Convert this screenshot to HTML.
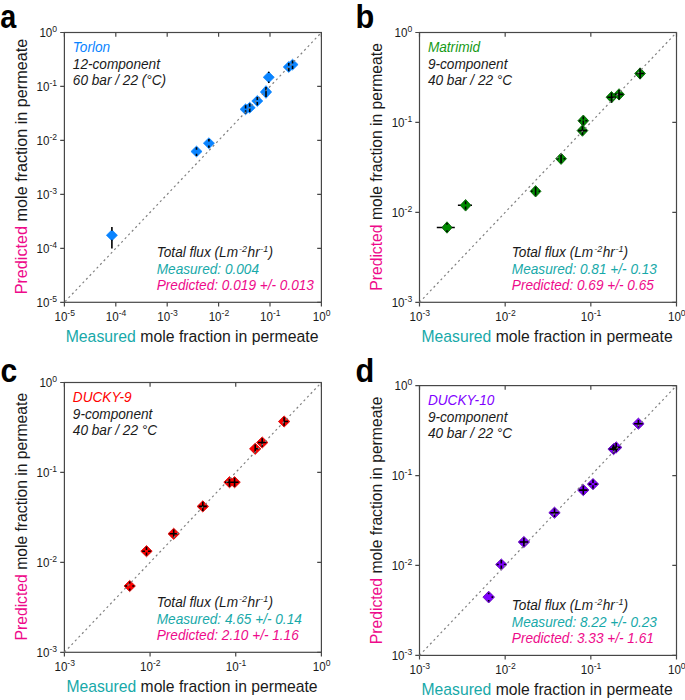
<!DOCTYPE html>
<html><head><meta charset="utf-8"><style>
html,body{margin:0;padding:0;background:#fff;}
svg{display:block;}
text{font-family:"Liberation Sans",sans-serif;}
</style></head><body>
<svg width="685" height="700" viewBox="0 0 685 700">
<rect width="685" height="700" fill="#fff"/>
<rect x="64.4" y="32.5" width="257" height="269.8" fill="none" stroke="#474747" stroke-width="1.2"/>
<path d="M64.4 302.3V306.5M64.4 32.5V36.7M64.4 302.3H60.2M321.4 302.3H317.2M115.8 302.3V306.5M115.8 32.5V36.7M64.4 248.34H60.2M321.4 248.34H317.2M167.2 302.3V306.5M167.2 32.5V36.7M64.4 194.38H60.2M321.4 194.38H317.2M218.6 302.3V306.5M218.6 32.5V36.7M64.4 140.42H60.2M321.4 140.42H317.2M270 302.3V306.5M270 32.5V36.7M64.4 86.46H60.2M321.4 86.46H317.2M321.4 302.3V306.5M321.4 32.5V36.7M64.4 32.5H60.2M321.4 32.5H317.2" stroke="#474747" stroke-width="1.2" fill="none"/>
<text transform="translate(54.43 320.7) scale(1 1.04)" font-size="11.6" fill="#1a1a1a">10</text>
<text transform="translate(67.33 315.5) scale(1 1.04)" font-size="8.6" fill="#1a1a1a">-5</text>
<text transform="translate(36.55 306.6) scale(1 1.04)" font-size="11.6" fill="#1a1a1a">10</text>
<text transform="translate(49.45 302) scale(1 1.04)" font-size="8.6" fill="#1a1a1a">-5</text>
<text transform="translate(105.83 320.7) scale(1 1.04)" font-size="11.6" fill="#1a1a1a">10</text>
<text transform="translate(118.73 315.5) scale(1 1.04)" font-size="8.6" fill="#1a1a1a">-4</text>
<text transform="translate(36.55 252.64) scale(1 1.04)" font-size="11.6" fill="#1a1a1a">10</text>
<text transform="translate(49.45 248.04) scale(1 1.04)" font-size="8.6" fill="#1a1a1a">-4</text>
<text transform="translate(157.23 320.7) scale(1 1.04)" font-size="11.6" fill="#1a1a1a">10</text>
<text transform="translate(170.13 315.5) scale(1 1.04)" font-size="8.6" fill="#1a1a1a">-3</text>
<text transform="translate(36.55 198.68) scale(1 1.04)" font-size="11.6" fill="#1a1a1a">10</text>
<text transform="translate(49.45 194.08) scale(1 1.04)" font-size="8.6" fill="#1a1a1a">-3</text>
<text transform="translate(208.63 320.7) scale(1 1.04)" font-size="11.6" fill="#1a1a1a">10</text>
<text transform="translate(221.53 315.5) scale(1 1.04)" font-size="8.6" fill="#1a1a1a">-2</text>
<text transform="translate(36.55 144.72) scale(1 1.04)" font-size="11.6" fill="#1a1a1a">10</text>
<text transform="translate(49.45 140.12) scale(1 1.04)" font-size="8.6" fill="#1a1a1a">-2</text>
<text transform="translate(260.03 320.7) scale(1 1.04)" font-size="11.6" fill="#1a1a1a">10</text>
<text transform="translate(272.93 315.5) scale(1 1.04)" font-size="8.6" fill="#1a1a1a">-1</text>
<text transform="translate(36.55 90.76) scale(1 1.04)" font-size="11.6" fill="#1a1a1a">10</text>
<text transform="translate(49.45 86.16) scale(1 1.04)" font-size="8.6" fill="#1a1a1a">-1</text>
<text transform="translate(312.86 320.7) scale(1 1.04)" font-size="11.6" fill="#1a1a1a">10</text>
<text transform="translate(325.76 315.5) scale(1 1.04)" font-size="8.6" fill="#1a1a1a">0</text>
<text transform="translate(39.42 36.8) scale(1 1.04)" font-size="11.6" fill="#1a1a1a">10</text>
<text transform="translate(52.32 32.2) scale(1 1.04)" font-size="8.6" fill="#1a1a1a">0</text>
<text transform="translate(65.65 341.7)" font-size="15.8" fill="#1a1a1a"><tspan fill="#17a9a9">Measured</tspan> mole fraction in permeate</text>
<text transform="translate(26.6 166.5) rotate(-90) scale(1 1.0)" x="-127.85" y="0" font-size="16.2" fill="#1a1a1a"><tspan fill="#ee0a8a">Predicted</tspan> mole fraction in permeate</text>
<text transform="translate(0.2 28.3) scale(0.9 1.01)" font-size="32" font-weight="bold" fill="#000">a</text>
<text transform="translate(72.8 51.8) scale(1 1.04)" font-size="13.65" fill="#0a84ff" font-style="italic">Torlon</text>
<text transform="translate(72.8 68.9) scale(1 1.04)" font-size="13.65" fill="#1a1a1a" font-style="italic">12-component</text>
<text transform="translate(72.8 84.7) scale(1 1.04)" font-size="13.65" fill="#1a1a1a" font-style="italic">60 bar / 22 (°C)</text>
<text transform="translate(156.7 256.9) scale(1 1.04)" font-size="13.65" fill="#1a1a1a" font-style="italic">Total flux (Lm<tspan font-size="9" dx="1.1" dy="-5.2">-2</tspan><tspan dx="0.5" dy="5.2">hr</tspan><tspan font-size="9" dx="0.6" dy="-5.2">-1</tspan><tspan dx="0.1" dy="5.2">)</tspan></text>
<text transform="translate(156.7 273.5) scale(1 1.04)" font-size="13.65" fill="#17a9a9" font-style="italic">Measured: 0.004</text>
<text transform="translate(156.7 289.6) scale(1 1.04)" font-size="13.65" fill="#ee0a8a" font-style="italic">Predicted: 0.019 +/- 0.013</text>
<path d="M106.35 235.3L111.9 229.85L117.45 235.3L111.9 240.75Z" fill="#0a84ff" stroke="#0a84ff" stroke-width="0.7" stroke-linejoin="round"/>
<path d="M190.95 151.5L196.5 146.05L202.05 151.5L196.5 156.95Z" fill="#0a84ff" stroke="#0a84ff" stroke-width="0.7" stroke-linejoin="round"/>
<path d="M203.35 143.2L208.9 137.75L214.45 143.2L208.9 148.65Z" fill="#0a84ff" stroke="#0a84ff" stroke-width="0.7" stroke-linejoin="round"/>
<path d="M244.15 107.7L249.7 102.25L255.25 107.7L249.7 113.15Z" fill="#0a84ff" stroke="#0a84ff" stroke-width="0.7" stroke-linejoin="round"/>
<path d="M240.05 109.3L245.6 103.85L251.15 109.3L245.6 114.75Z" fill="#0a84ff" stroke="#0a84ff" stroke-width="0.7" stroke-linejoin="round"/>
<path d="M251.75 101L257.3 95.55L262.85 101L257.3 106.45Z" fill="#0a84ff" stroke="#0a84ff" stroke-width="0.7" stroke-linejoin="round"/>
<path d="M260.35 92L266 85.65L271.65 92L266 98.35Z" fill="#0a84ff" stroke="#0a84ff" stroke-width="0.7" stroke-linejoin="round"/>
<path d="M263.2 77.3L268.75 71.85L274.3 77.3L268.75 82.75Z" fill="#0a84ff" stroke="#0a84ff" stroke-width="0.7" stroke-linejoin="round"/>
<path d="M287 64.6L292.55 59.15L298.1 64.6L292.55 70.05Z" fill="#0a84ff" stroke="#0a84ff" stroke-width="0.7" stroke-linejoin="round"/>
<path d="M283.21 66.97L288.76 61.52L294.31 66.97L288.76 72.42Z" fill="#0a84ff" stroke="#0a84ff" stroke-width="0.7" stroke-linejoin="round"/>
<path d="M111.9 227V230.7M111.9 239.8V248.6M196.5 147.3V149.7M196.5 153.7V156.1M208.9 139V141.4M208.9 145.4V147.8M249.7 103.6V106.8M249.7 108.6V112M245.6 105.2V108.4M245.6 110.2V113.6M257.3 96.9V100.1M257.3 101.9V105.3M266 87V97M268.75 71.7V73M268.75 81.6V83M292.55 60.6V63.4M292.55 65.7V68.9M288.76 62.97V65.77M288.76 68.07V71.27" stroke="#000" stroke-width="1.6" fill="none"/>
<path d="M64.4 302.3L321.4 32.5" stroke="#808080" stroke-width="1.2" stroke-dasharray="2.1 3" stroke-dashoffset="4.2" fill="none"/>
<rect x="419.5" y="32.5" width="257" height="269.8" fill="none" stroke="#474747" stroke-width="1.2"/>
<path d="M419.5 302.3V306.5M419.5 32.5V36.7M419.5 302.3H415.3M676.5 302.3H672.3M505.17 302.3V306.5M505.17 32.5V36.7M419.5 212.37H415.3M676.5 212.37H672.3M590.83 302.3V306.5M590.83 32.5V36.7M419.5 122.43H415.3M676.5 122.43H672.3M676.5 302.3V306.5M676.5 32.5V36.7M419.5 32.5H415.3M676.5 32.5H672.3" stroke="#474747" stroke-width="1.2" fill="none"/>
<text transform="translate(409.53 320.7) scale(1 1.04)" font-size="11.6" fill="#1a1a1a">10</text>
<text transform="translate(422.43 315.5) scale(1 1.04)" font-size="8.6" fill="#1a1a1a">-3</text>
<text transform="translate(391.65 306.6) scale(1 1.04)" font-size="11.6" fill="#1a1a1a">10</text>
<text transform="translate(404.55 302) scale(1 1.04)" font-size="8.6" fill="#1a1a1a">-3</text>
<text transform="translate(495.19 320.7) scale(1 1.04)" font-size="11.6" fill="#1a1a1a">10</text>
<text transform="translate(508.09 315.5) scale(1 1.04)" font-size="8.6" fill="#1a1a1a">-2</text>
<text transform="translate(391.65 216.67) scale(1 1.04)" font-size="11.6" fill="#1a1a1a">10</text>
<text transform="translate(404.55 212.07) scale(1 1.04)" font-size="8.6" fill="#1a1a1a">-2</text>
<text transform="translate(580.86 320.7) scale(1 1.04)" font-size="11.6" fill="#1a1a1a">10</text>
<text transform="translate(593.76 315.5) scale(1 1.04)" font-size="8.6" fill="#1a1a1a">-1</text>
<text transform="translate(391.65 126.73) scale(1 1.04)" font-size="11.6" fill="#1a1a1a">10</text>
<text transform="translate(404.55 122.13) scale(1 1.04)" font-size="8.6" fill="#1a1a1a">-1</text>
<text transform="translate(667.96 320.7) scale(1 1.04)" font-size="11.6" fill="#1a1a1a">10</text>
<text transform="translate(680.86 315.5) scale(1 1.04)" font-size="8.6" fill="#1a1a1a">0</text>
<text transform="translate(394.52 36.8) scale(1 1.04)" font-size="11.6" fill="#1a1a1a">10</text>
<text transform="translate(407.42 32.2) scale(1 1.04)" font-size="8.6" fill="#1a1a1a">0</text>
<text transform="translate(421.55 341.7)" font-size="15.7" fill="#1a1a1a"><tspan fill="#17a9a9">Measured</tspan> mole fraction in permeate</text>
<text transform="translate(381.7 166.85) rotate(-90) scale(1 1.0)" x="-123.91" y="0" font-size="15.7" fill="#1a1a1a"><tspan fill="#ee0a8a">Predicted</tspan> mole fraction in permeate</text>
<text transform="translate(355.4 27.6) scale(0.96 1.01)" font-size="32" font-weight="bold" fill="#000">b</text>
<text transform="translate(427.9 51.8) scale(1 1.04)" font-size="13.65" fill="#169a16" font-style="italic">Matrimid</text>
<text transform="translate(427.9 68.9) scale(1 1.04)" font-size="13.65" fill="#1a1a1a" font-style="italic">9-component</text>
<text transform="translate(427.9 84.7) scale(1 1.04)" font-size="13.65" fill="#1a1a1a" font-style="italic">40 bar / 22 °C</text>
<text transform="translate(511.8 256.9) scale(1 1.04)" font-size="13.65" fill="#1a1a1a" font-style="italic">Total flux (Lm<tspan font-size="9" dx="1.1" dy="-5.2">-2</tspan><tspan dx="0.5" dy="5.2">hr</tspan><tspan font-size="9" dx="0.6" dy="-5.2">-1</tspan><tspan dx="0.1" dy="5.2">)</tspan></text>
<text transform="translate(511.8 273.5) scale(1 1.04)" font-size="13.65" fill="#17a9a9" font-style="italic">Measured: 0.81 +/- 0.13</text>
<text transform="translate(511.8 289.6) scale(1 1.04)" font-size="13.65" fill="#ee0a8a" font-style="italic">Predicted: 0.69 +/- 0.65</text>
<path d="M441.8 227.5L447 221.8L452.2 227.5L447 233.2Z" fill="#008c00" stroke="#005a00" stroke-width="0.8" stroke-linejoin="round"/>
<path d="M460.2 205.3L465.6 199.5L471 205.3L465.6 211.1Z" fill="#008c00" stroke="#005a00" stroke-width="0.8" stroke-linejoin="round"/>
<path d="M530.2 191.3L535.6 185.6L541 191.3L535.6 197Z" fill="#008c00" stroke="#005a00" stroke-width="0.8" stroke-linejoin="round"/>
<path d="M555.67 158.7L561.07 153L566.47 158.7L561.07 164.4Z" fill="#008c00" stroke="#005a00" stroke-width="0.8" stroke-linejoin="round"/>
<path d="M577.05 130.6L582.45 124.9L587.85 130.6L582.45 136.3Z" fill="#008c00" stroke="#005a00" stroke-width="0.8" stroke-linejoin="round"/>
<path d="M577.9 120.7L583.3 115L588.7 120.7L583.3 126.4Z" fill="#008c00" stroke="#005a00" stroke-width="0.8" stroke-linejoin="round"/>
<path d="M606.1 97.2L611.5 91.5L616.9 97.2L611.5 102.9Z" fill="#008c00" stroke="#005a00" stroke-width="0.8" stroke-linejoin="round"/>
<path d="M613.65 94.4L619.05 88.7L624.45 94.4L619.05 100.1Z" fill="#008c00" stroke="#005a00" stroke-width="0.8" stroke-linejoin="round"/>
<path d="M634.67 73.5L640.07 67.8L645.47 73.5L640.07 79.2Z" fill="#008c00" stroke="#005a00" stroke-width="0.8" stroke-linejoin="round"/>
<path d="M436.8 227.5H442.2M451.8 227.5H454.8M447 223V224.8M447 230.3V232.1M457.9 205.3H460.6M470.6 205.3H472M465.6 201.2V204.3M465.6 206.4V209.5M535.6 187V195.6M531 191.3H532.6M538.6 191.3H540M561.07 154.3V163.1M556.87 158.7H558.57M563.57 158.7H565.27M582.45 126.3V134.9M578.15 130.6H586.95M583.3 116.4V119.4M583.3 120.4V124.7M578.9 120.7H580.9M585.3 120.7H587.3M611.5 92.7V102.4M607.3 97.2H615.7M619.05 89.9V99.4M614.85 94.4H623.25M640.07 68.5V78.5M636.17 73.5H643.97" stroke="#000" stroke-width="1.6" fill="none"/>
<path d="M419.5 302.3L676.5 32.5" stroke="#808080" stroke-width="1.2" stroke-dasharray="2.1 3" stroke-dashoffset="5.05" fill="none"/>
<rect x="64.4" y="382.5" width="257" height="269.8" fill="none" stroke="#474747" stroke-width="1.2"/>
<path d="M64.4 652.3V656.5M64.4 382.5V386.7M64.4 652.3H60.2M321.4 652.3H317.2M150.07 652.3V656.5M150.07 382.5V386.7M64.4 562.37H60.2M321.4 562.37H317.2M235.73 652.3V656.5M235.73 382.5V386.7M64.4 472.43H60.2M321.4 472.43H317.2M321.4 652.3V656.5M321.4 382.5V386.7M64.4 382.5H60.2M321.4 382.5H317.2" stroke="#474747" stroke-width="1.2" fill="none"/>
<text transform="translate(54.43 670.7) scale(1 1.04)" font-size="11.6" fill="#1a1a1a">10</text>
<text transform="translate(67.33 665.5) scale(1 1.04)" font-size="8.6" fill="#1a1a1a">-3</text>
<text transform="translate(36.55 656.6) scale(1 1.04)" font-size="11.6" fill="#1a1a1a">10</text>
<text transform="translate(49.45 652) scale(1 1.04)" font-size="8.6" fill="#1a1a1a">-3</text>
<text transform="translate(140.09 670.7) scale(1 1.04)" font-size="11.6" fill="#1a1a1a">10</text>
<text transform="translate(152.99 665.5) scale(1 1.04)" font-size="8.6" fill="#1a1a1a">-2</text>
<text transform="translate(36.55 566.67) scale(1 1.04)" font-size="11.6" fill="#1a1a1a">10</text>
<text transform="translate(49.45 562.07) scale(1 1.04)" font-size="8.6" fill="#1a1a1a">-2</text>
<text transform="translate(225.76 670.7) scale(1 1.04)" font-size="11.6" fill="#1a1a1a">10</text>
<text transform="translate(238.66 665.5) scale(1 1.04)" font-size="8.6" fill="#1a1a1a">-1</text>
<text transform="translate(36.55 476.73) scale(1 1.04)" font-size="11.6" fill="#1a1a1a">10</text>
<text transform="translate(49.45 472.13) scale(1 1.04)" font-size="8.6" fill="#1a1a1a">-1</text>
<text transform="translate(312.86 670.7) scale(1 1.04)" font-size="11.6" fill="#1a1a1a">10</text>
<text transform="translate(325.76 665.5) scale(1 1.04)" font-size="8.6" fill="#1a1a1a">0</text>
<text transform="translate(39.42 386.8) scale(1 1.04)" font-size="11.6" fill="#1a1a1a">10</text>
<text transform="translate(52.32 382.2) scale(1 1.04)" font-size="8.6" fill="#1a1a1a">0</text>
<text transform="translate(66.45 691.7)" font-size="15.7" fill="#1a1a1a"><tspan fill="#17a9a9">Measured</tspan> mole fraction in permeate</text>
<text transform="translate(26.6 516.6) rotate(-90) scale(1 1.0)" x="-123.91" y="0" font-size="15.7" fill="#1a1a1a"><tspan fill="#ee0a8a">Predicted</tspan> mole fraction in permeate</text>
<text transform="translate(0.6 381.9) scale(0.94 1.01)" font-size="32" font-weight="bold" fill="#000">c</text>
<text transform="translate(72.8 401.8) scale(1 1.04)" font-size="13.65" fill="#ff0000" font-style="italic">DUCKY-9</text>
<text transform="translate(72.8 418.9) scale(1 1.04)" font-size="13.65" fill="#1a1a1a" font-style="italic">9-component</text>
<text transform="translate(72.8 434.7) scale(1 1.04)" font-size="13.65" fill="#1a1a1a" font-style="italic">40 bar / 22 °C</text>
<text transform="translate(156.7 606.9) scale(1 1.04)" font-size="13.65" fill="#1a1a1a" font-style="italic">Total flux (Lm<tspan font-size="9" dx="1.1" dy="-5.2">-2</tspan><tspan dx="0.5" dy="5.2">hr</tspan><tspan font-size="9" dx="0.6" dy="-5.2">-1</tspan><tspan dx="0.1" dy="5.2">)</tspan></text>
<text transform="translate(156.7 623.5) scale(1 1.04)" font-size="13.65" fill="#17a9a9" font-style="italic">Measured: 4.65 +/- 0.14</text>
<text transform="translate(156.7 639.6) scale(1 1.04)" font-size="13.65" fill="#ee0a8a" font-style="italic">Predicted: 2.10 +/- 1.16</text>
<path d="M124 586L129.7 580.4L135.4 586L129.7 591.6Z" fill="#ff0000" stroke="#d80000" stroke-width="0.8" stroke-linejoin="round"/>
<path d="M140.8 551.2L146.5 545.6L152.2 551.2L146.5 556.8Z" fill="#ff0000" stroke="#d80000" stroke-width="0.8" stroke-linejoin="round"/>
<path d="M168 533.8L173.7 528.2L179.4 533.8L173.7 539.4Z" fill="#ff0000" stroke="#d80000" stroke-width="0.8" stroke-linejoin="round"/>
<path d="M197.1 506.4L202.8 500.8L208.5 506.4L202.8 512Z" fill="#ff0000" stroke="#d80000" stroke-width="0.8" stroke-linejoin="round"/>
<path d="M223.8 482.2L229.5 476.6L235.2 482.2L229.5 487.8Z" fill="#ff0000" stroke="#d80000" stroke-width="0.8" stroke-linejoin="round"/>
<path d="M228.9 482.2L234.6 476.6L240.3 482.2L234.6 487.8Z" fill="#ff0000" stroke="#d80000" stroke-width="0.8" stroke-linejoin="round"/>
<path d="M249.5 448.8L255.2 443.2L260.9 448.8L255.2 454.4Z" fill="#ff0000" stroke="#d80000" stroke-width="0.8" stroke-linejoin="round"/>
<path d="M256.5 442.5L262.2 436.9L267.9 442.5L262.2 448.1Z" fill="#ff0000" stroke="#d80000" stroke-width="0.8" stroke-linejoin="round"/>
<path d="M278.4 421.5L284.1 415.9L289.8 421.5L284.1 427.1Z" fill="#ff0000" stroke="#d80000" stroke-width="0.8" stroke-linejoin="round"/>
<path d="M129.7 581.4V583.4M129.7 588.6V590.6M125.1 586H127.1M132.3 586H134.3M146.5 546.8V550M146.5 552.4V555.6M142.2 551.2H145M148 551.2H150.8M173.7 529.5V538.1M169.5 533.8H177.9M202.8 501.8V511M198.7 506.4H206.8M229.5 478.7V486.7M225 482.2H230.5M234.6 477.7V486.7M230.6 482.2H238.6M255.2 444.5V453.1M255.2 448.8H259M262.2 438.2V446.8M258 442.5H266.4M284.1 417.2V425.8M284.1 421.5H288.1" stroke="#000" stroke-width="1.6" fill="none"/>
<path d="M64.4 652.3L321.4 382.5" stroke="#808080" stroke-width="1.2" stroke-dasharray="2.1 3" stroke-dashoffset="5.0" fill="none"/>
<rect x="419.5" y="385.6" width="257" height="269.8" fill="none" stroke="#474747" stroke-width="1.2"/>
<path d="M419.5 655.4V659.6M419.5 385.6V389.8M419.5 655.4H415.3M676.5 655.4H672.3M505.17 655.4V659.6M505.17 385.6V389.8M419.5 565.47H415.3M676.5 565.47H672.3M590.83 655.4V659.6M590.83 385.6V389.8M419.5 475.53H415.3M676.5 475.53H672.3M676.5 655.4V659.6M676.5 385.6V389.8M419.5 385.6H415.3M676.5 385.6H672.3" stroke="#474747" stroke-width="1.2" fill="none"/>
<text transform="translate(409.53 673.8) scale(1 1.04)" font-size="11.6" fill="#1a1a1a">10</text>
<text transform="translate(422.43 668.6) scale(1 1.04)" font-size="8.6" fill="#1a1a1a">-3</text>
<text transform="translate(391.65 659.7) scale(1 1.04)" font-size="11.6" fill="#1a1a1a">10</text>
<text transform="translate(404.55 655.1) scale(1 1.04)" font-size="8.6" fill="#1a1a1a">-3</text>
<text transform="translate(495.19 673.8) scale(1 1.04)" font-size="11.6" fill="#1a1a1a">10</text>
<text transform="translate(508.09 668.6) scale(1 1.04)" font-size="8.6" fill="#1a1a1a">-2</text>
<text transform="translate(391.65 569.77) scale(1 1.04)" font-size="11.6" fill="#1a1a1a">10</text>
<text transform="translate(404.55 565.17) scale(1 1.04)" font-size="8.6" fill="#1a1a1a">-2</text>
<text transform="translate(580.86 673.8) scale(1 1.04)" font-size="11.6" fill="#1a1a1a">10</text>
<text transform="translate(593.76 668.6) scale(1 1.04)" font-size="8.6" fill="#1a1a1a">-1</text>
<text transform="translate(391.65 479.83) scale(1 1.04)" font-size="11.6" fill="#1a1a1a">10</text>
<text transform="translate(404.55 475.23) scale(1 1.04)" font-size="8.6" fill="#1a1a1a">-1</text>
<text transform="translate(667.96 673.8) scale(1 1.04)" font-size="11.6" fill="#1a1a1a">10</text>
<text transform="translate(680.86 668.6) scale(1 1.04)" font-size="8.6" fill="#1a1a1a">0</text>
<text transform="translate(394.52 389.9) scale(1 1.04)" font-size="11.6" fill="#1a1a1a">10</text>
<text transform="translate(407.42 385.3) scale(1 1.04)" font-size="8.6" fill="#1a1a1a">0</text>
<text transform="translate(421.55 694.8)" font-size="15.7" fill="#1a1a1a"><tspan fill="#17a9a9">Measured</tspan> mole fraction in permeate</text>
<text transform="translate(381.7 520.3) rotate(-90) scale(1 1.0)" x="-123.91" y="0" font-size="15.7" fill="#1a1a1a"><tspan fill="#ee0a8a">Predicted</tspan> mole fraction in permeate</text>
<text transform="translate(355.4 381.9) scale(0.96 1.01)" font-size="32" font-weight="bold" fill="#000">d</text>
<text transform="translate(427.9 404.9) scale(1 1.04)" font-size="13.65" fill="#7f00ff" font-style="italic">DUCKY-10</text>
<text transform="translate(427.9 422) scale(1 1.04)" font-size="13.65" fill="#1a1a1a" font-style="italic">9-component</text>
<text transform="translate(427.9 437.8) scale(1 1.04)" font-size="13.65" fill="#1a1a1a" font-style="italic">40 bar / 22 °C</text>
<text transform="translate(511.8 610) scale(1 1.04)" font-size="13.65" fill="#1a1a1a" font-style="italic">Total flux (Lm<tspan font-size="9" dx="1.1" dy="-5.2">-2</tspan><tspan dx="0.5" dy="5.2">hr</tspan><tspan font-size="9" dx="0.6" dy="-5.2">-1</tspan><tspan dx="0.1" dy="5.2">)</tspan></text>
<text transform="translate(511.8 626.6) scale(1 1.04)" font-size="13.65" fill="#17a9a9" font-style="italic">Measured: 8.22 +/- 0.23</text>
<text transform="translate(511.8 642.7) scale(1 1.04)" font-size="13.65" fill="#ee0a8a" font-style="italic">Predicted: 3.33 +/- 1.61</text>
<path d="M482.9 597.1L488.7 591.2L494.5 597.1L488.7 603Z" fill="#7f00ff" stroke="#5a00b0" stroke-width="0.8" stroke-linejoin="round"/>
<path d="M495.6 564.5L501.3 558.9L507 564.5L501.3 570.1Z" fill="#7f00ff" stroke="#5a00b0" stroke-width="0.8" stroke-linejoin="round"/>
<path d="M518.2 542L523.9 536.4L529.6 542L523.9 547.6Z" fill="#7f00ff" stroke="#5a00b0" stroke-width="0.8" stroke-linejoin="round"/>
<path d="M548.8 512.7L554.5 507.1L560.2 512.7L554.5 518.3Z" fill="#7f00ff" stroke="#5a00b0" stroke-width="0.8" stroke-linejoin="round"/>
<path d="M577.6 490.1L583.3 484.5L589 490.1L583.3 495.7Z" fill="#7f00ff" stroke="#5a00b0" stroke-width="0.8" stroke-linejoin="round"/>
<path d="M587.3 484.1L593 478.5L598.7 484.1L593 489.7Z" fill="#7f00ff" stroke="#5a00b0" stroke-width="0.8" stroke-linejoin="round"/>
<path d="M607.9 449.1L613.6 443.5L619.3 449.1L613.6 454.7Z" fill="#7f00ff" stroke="#5a00b0" stroke-width="0.8" stroke-linejoin="round"/>
<path d="M610.5 447.4L616.2 441.8L621.9 447.4L616.2 453Z" fill="#7f00ff" stroke="#5a00b0" stroke-width="0.8" stroke-linejoin="round"/>
<path d="M632.7 423.7L638.4 418.1L644.1 423.7L638.4 429.3Z" fill="#7f00ff" stroke="#5a00b0" stroke-width="0.8" stroke-linejoin="round"/>
<path d="M488.7 592.7V594.3M488.7 599.9V601.5M491.5 597.1H493.1M501.3 560V563.5M501.3 565.5V569M496.8 564.5H498.8M503.8 564.5H505.8M523.9 537.7V546.3M519.7 542H528.1M554.5 508.4V517M550.3 512.7H558.7M583.3 485.8V494.4M579.1 490.1H587.5M593 479.7V482.9M593 485.3V488.5M588.7 484.1H591.5M594.5 484.1H597.3M613.6 444.8V453.4M609.4 449.1H617.8M616.2 443.1V451.7M612 447.4H620.4M638.4 420V427.4M634.1 423.7H642.7" stroke="#000" stroke-width="1.6" fill="none"/>
<path d="M419.5 655.4L676.5 385.6" stroke="#808080" stroke-width="1.2" stroke-dasharray="2.1 3" stroke-dashoffset="5.05" fill="none"/>
</svg>
</body></html>
